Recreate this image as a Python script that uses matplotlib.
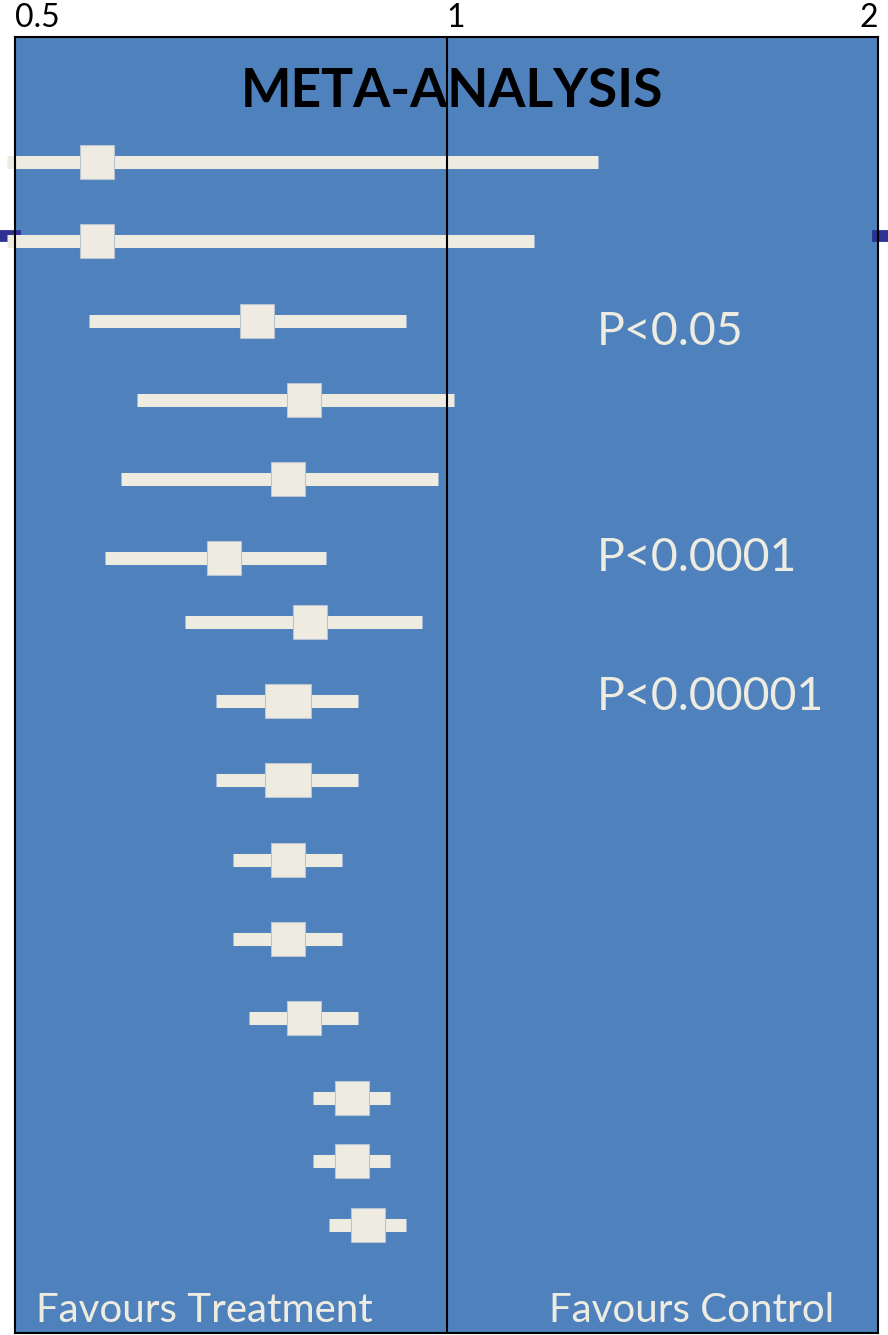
import matplotlib
matplotlib.use('Agg')
import matplotlib.pyplot as plt
from matplotlib.ticker import NullLocator

# odds ratios, top row first
estimate = [0.570, 0.570, 0.737, 0.796, 0.775, 0.699, 0.803, 0.775,
            0.775, 0.775, 0.775, 0.796, 0.859, 0.859, 0.882]
ci_low = [0.494, 0.494, 0.563, 0.608, 0.593, 0.578, 0.657, 0.691,
          0.691, 0.710, 0.710, 0.728, 0.807, 0.807, 0.828]
ci_high = [1.276, 1.151, 0.937, 1.012, 0.986, 0.824, 0.961, 0.868,
           0.868, 0.846, 0.846, 0.868, 0.913, 0.913, 0.937]
row_pos = [125, 204, 284, 363, 442, 521, 585, 664, 743, 823, 902, 981, 1061, 1124, 1188]
wide_box = [False] * 7 + [True, True] + [False] * 6

x_ticks = [0.5, 1, 2]
x_tick_labels = ['0.5', '1', '2']
p_labels = ['P<0.05', 'P<0.0001', 'P<0.00001']

blue = '#4F81BD'
cream = '#EEECE1'
plt.rcParams['font.family'] = ['Lato', 'DejaVu Sans']

fig = plt.figure(figsize=(8.88, 13.35), dpi=100)
ax = fig.add_axes([15 / 888, 2 / 1335, 863 / 888, 1296 / 1335])
ax.set_facecolor(blue)
ax.set_xscale('log', base=2)
ax.set_xlim(0.5, 2)
ax.set_ylim(1296, 0)

# dark blue stubs sticking out both sides at the second row
ax.axhline(199, xmin=-0.02, xmax=0, color='#2E3192', lw=8.5, clip_on=False, zorder=1)
ax.axhline(199, xmin=1, xmax=1.02, color='#2E3192', lw=8.5, clip_on=False, zorder=1)

ax.hlines(row_pos, ci_low, ci_high, colors=cream, lw=9.4, capstyle='butt',
          clip_on=False, zorder=3)

wide = [(-0.676, -0.5), (0.676, -0.5), (0.676, 0.5), (-0.676, 0.5), (-0.676, -0.5)]
for y, e, w in zip(row_pos, estimate, wide_box):
    if w:
        ax.plot(e, y, marker=wide, ms=33.1, color=cream, mec='#B8C4D4', mew=0.8,
                ls='none', zorder=4)
    else:
        ax.plot(e, y, marker='s', ms=24.5, color=cream, mec='#B8C4D4', mew=0.8,
                ls='none', zorder=4)

ax.axvline(1, color='black', lw=1.5, zorder=5)

for s in ax.spines.values():
    s.set_color('black')
    s.set_linewidth(1.5)
    s.set_zorder(6)

ax.xaxis.tick_top()
ax.set_xticks(x_ticks)
ax.set_xticklabels(x_tick_labels)
ax.xaxis.set_minor_locator(NullLocator())
ax.tick_params(axis='x', length=0, pad=3, labelsize=23, labelcolor='black')
labels = ax.get_xticklabels()
labels[0].set_ha('left')
labels[1].set_ha('left')
labels[2].set_ha('right')
ax.set_yticks([])

ax.text(0.5064, 0.9461, 'META-ANALYSIS', transform=ax.transAxes, ha='center',
        va='baseline', fontsize=38.5, fontweight='bold', color='black', zorder=7)

for lab, yb in zip(p_labels, [0.7627, 0.5878, 0.4807]):
    ax.text(0.674, yb, lab, transform=ax.transAxes, ha='left', va='baseline',
            fontsize=33.5, color=cream, zorder=7)

ax.text(0.024, 0.0085, 'Favours Treatment', transform=ax.transAxes, ha='left',
        va='baseline', fontsize=29, color=cream)
ax.text(0.6185, 0.0085, 'Favours Control', transform=ax.transAxes, ha='left',
        va='baseline', fontsize=29, color=cream)

fig.savefig('out.png', dpi=100)
